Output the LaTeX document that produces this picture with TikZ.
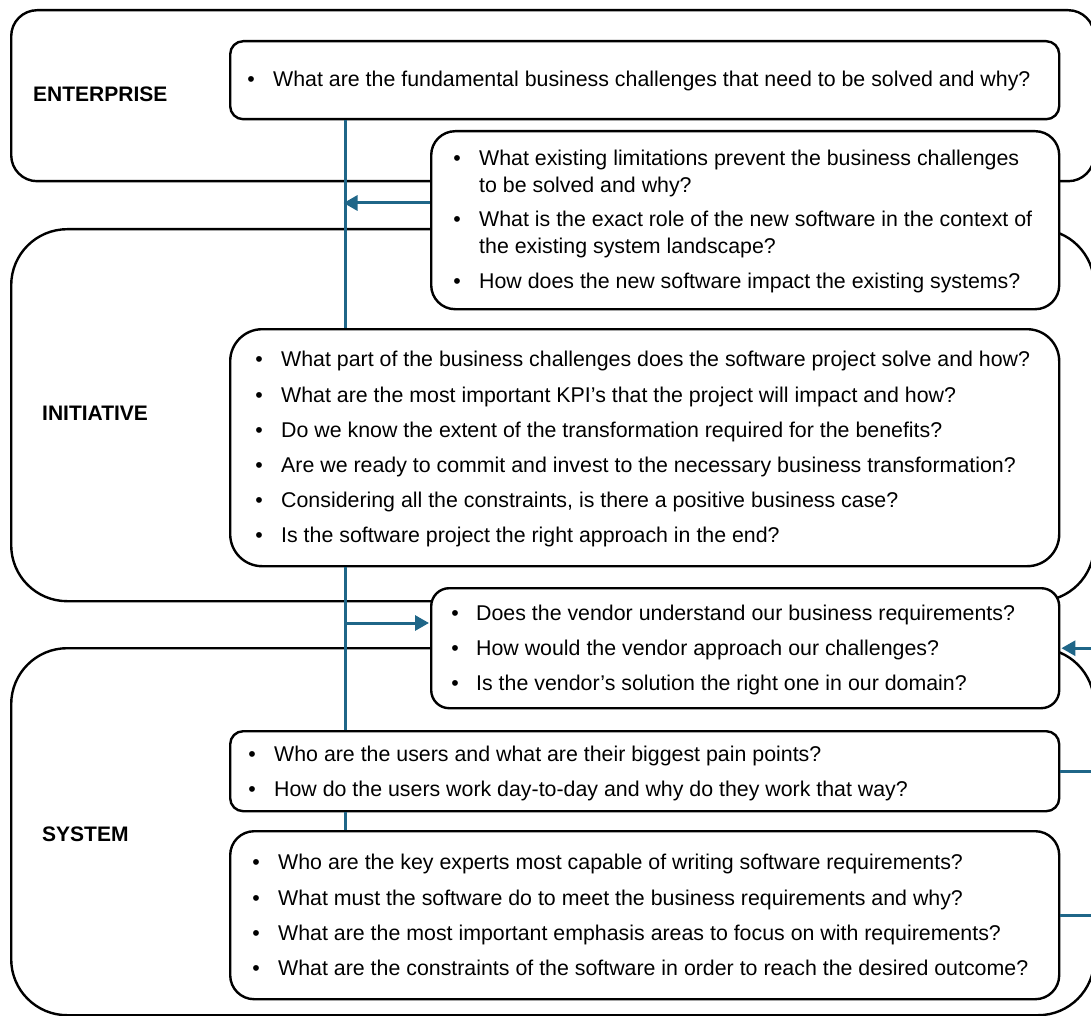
\documentclass[tikz,border=0pt]{standalone}
\usepackage{fontspec}
\setmainfont{Liberation Sans}
\usetikzlibrary{arrows.meta,calc}
\definecolor{linkblue}{RGB}{31,102,136}
\tikzset{
  layer/.style={draw=black, line width=2.4pt, fill=white, inner sep=0pt, anchor=north west},
  qbox/.style={draw=black, line width=2.4pt, fill=white, inner sep=0pt, anchor=north west},
  lvl/.style={font=\fontsize{21}{25}\selectfont\bfseries, anchor=base west, inner sep=0pt},
  qtext/.style={font=\fontsize{21.35}{25}\selectfont, anchor=base west, inner sep=0pt},
  dot/.style={font=\fontsize{21.35}{25}\selectfont, anchor=base, inner sep=0pt},
  link/.style={draw=linkblue, line width=3pt},
  linkarrow/.style={link, -{Triangle[length=14pt,width=15pt]}},
}
% bullet + first line of a question
\newcommand\qitem[5]{%
  \node[dot] (#1d) at (#2,#4) {\textbullet};
  \node[qtext] (#1) at (#3,#4) {#5};}
\begin{document}
\begin{tikzpicture}[x=1pt,y=-1pt]
\path[use as bounding box, clip] (0,0) rectangle (1091,1016);

% level frames
\node[layer, minimum width=1083pt, minimum height=171pt, rounded corners=26pt] (ent) at (10,9) {};
\node[layer, minimum width=1083pt, minimum height=372pt, rounded corners=56pt] (ini) at (10,228) {};
\node[layer, minimum width=1083pt, minimum height=367pt, rounded corners=56pt] (sys) at (10,647) {};

\node[lvl] (entl) at (33,102) {ENTERPRISE};
\node[lvl] (inil) at (42,420) {INITIATIVE};
\node[lvl] (sysl) at (42,841) {SYSTEM};

% question boxes
\node[qbox, minimum width=829pt, minimum height=78pt, rounded corners=13pt] (ebox) at (229,40) {};
\node[qbox, minimum width=628pt, minimum height=178pt, rounded corners=24pt] (lbox) at (430,130) {};
\node[qbox, minimum width=829pt, minimum height=237pt, rounded corners=32pt] (ibox) at (229,328) {};
\node[qbox, minimum width=628pt, minimum height=120pt, rounded corners=18pt] (vbox) at (430,587) {};
\node[qbox, minimum width=829pt, minimum height=80pt, rounded corners=13pt] (ubox) at (229,730) {};
\node[qbox, minimum width=829pt, minimum height=168pt, rounded corners=24pt] (xbox) at (229,830) {};

% questions
\qitem{e1}{251}{273}{87}{What are the fundamental business challenges that need to be solved and why?}

\qitem{l1}{457}{479}{166}{What existing limitations prevent the business challenges}
\node[qtext] (l1b) at (479,193) {to be solved and why?};
\qitem{l2}{457}{479}{227}{What is the exact role of the new software in the context of}
\node[qtext] (l2b) at (479,253) {the existing system landscape?};
\qitem{l3}{457}{479}{288}{How does the new software impact the existing systems?}

\qitem{i1}{259}{281}{366}{What part of the business challenges does the software project solve and how?}
\qitem{i2}{259}{281}{402}{What are the most important KPI’s that the project will impact and how?}
\qitem{i3}{259}{281}{437}{Do we know the extent of the transformation required for the benefits?}
\qitem{i4}{259}{281}{472}{Are we ready to commit and invest to the necessary business transformation?}
\qitem{i5}{259}{281}{507}{Considering all the constraints, is there a positive business case?}
\qitem{i6}{259}{281}{542}{Is the software project the right approach in the end?}

\qitem{v1}{455}{476}{620}{Does the vendor understand our business requirements?}
\qitem{v2}{455}{476}{655}{How would the vendor approach our challenges?}
\qitem{v3}{455}{476}{690}{Is the vendor’s solution the right one in our domain?}

\qitem{u1}{252}{274}{761}{Who are the users and what are their biggest pain points?}
\qitem{u2}{252}{274}{796}{How do the users work day-to-day and why do they work that way?}

\qitem{x1}{256}{278}{869}{Who are the key experts most capable of writing software requirements?}
\qitem{x2}{256}{278}{905}{What must the software do to meet the business requirements and why?}
\qitem{x3}{256}{278}{940}{What are the most important emphasis areas to focus on with requirements?}
\qitem{x4}{256}{278}{975}{What are the constraints of the software in order to reach the desired outcome?}

% connectors
\coordinate (sx) at (345,0);
\coordinate (ya) at (0,203);
\coordinate (yb) at (0,623);
\coordinate (edge) at (1096,0);
\draw[link] (sx |- ebox.south) -- (sx |- ibox.north);
\draw[link] (sx |- ibox.south) -- (sx |- ubox.north);
\draw[link] (sx |- ubox.south) -- (sx |- xbox.north);
\draw[linkarrow, shorten >=-1.5pt] (lbox.west |- ya) -- (sx |- ya);
\draw[linkarrow, shorten >=1pt] (sx |- yb) -- (vbox.west |- yb);
\draw[linkarrow, shorten >=1pt] (edge |- vbox.east) -- (vbox.east);
\draw[link] (ubox.east) -- (edge |- ubox.east);
\draw[link] (xbox.east) -- (edge |- xbox.east);
\end{tikzpicture}
\end{document}
